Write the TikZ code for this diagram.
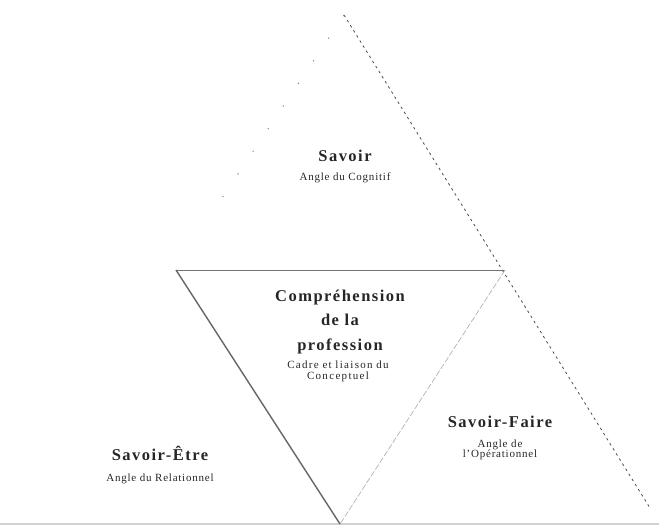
\documentclass[tikz,border=0pt]{standalone}
\usepackage{fontspec}
\setmainfont{Liberation Serif}
\begin{document}
\begin{tikzpicture}[x=1pt,y=-1pt,
  head/.style={font=\fontsize{16.5}{16.5}\selectfont\bfseries\addfontfeature{LetterSpace=9},
    text=black!85, inner sep=0pt, anchor=base},
  sub/.style={font=\fontsize{11}{10.5}\selectfont\addfontfeature{LetterSpace=7},
    text=black!85, inner sep=0pt, align=center, anchor=base},
  outerside/.style={draw=black!70, line width=0.8pt, dash pattern=on 2.5pt off 3.5pt},
  faintside/.style={draw=black!45, line width=1pt, dash pattern=on 1.2pt off 26pt},
  leftedge/.style={draw=black!60, line width=1.4pt},
  topedge/.style={draw=black!55, line width=0.9pt},
  rightedge/.style={draw=black!30, line width=0.7pt, dash pattern=on 6pt off 2pt},
  baseline/.style={draw=black!18, line width=1.2pt}]
\useasboundingbox (0,0) rectangle (659,529);
% corner points of the two triangles
\coordinate (apex) at (344,15);
\coordinate (tl) at (176,270);
\coordinate (tr) at (505,270);
\coordinate (bot) at (340,524);
\coordinate (rend) at (650,508);
\coordinate (ldots) at (222,198);
\coordinate (bl) at (0,524);
\coordinate (br) at (659,524);
% outer triangle
\draw[baseline] (bl) -- (br);
\draw[outerside] (apex) -- (rend);
\draw[faintside] (apex) -- (ldots);
% inner, inverted triangle
\draw[topedge] (tl) -- (tr);
\draw[leftedge] (tl) -- (bot);
\draw[rightedge] (tr) -- (bot);
% labels
\node[head] (sav) at (345,162) {Savoir};
\node[sub] (savs) at (345,181) {Angle du Cognitif};
\node[head] (comp1) at (340,302) {Compréhension};
\node[head] (comp2) at (340,326) {de la};
\node[head] (comp3) at (340,351) {profession};
\node[sub, text width=150pt, font=\fontsize{11}{10.5}\selectfont\addfontfeature{LetterSpace=12}] (comps) at (338,369) {Cadre et liaison du\\Conceptuel};
\node[head] (etre) at (160,460) {Savoir-Être};
\node[sub] (etres) at (160,481) {Angle du Relationnel};
\node[head] (faire) at (500,428) {Savoir-Faire};
\node[sub, text width=120pt] (faires) at (500,447) {Angle de\\l'Opérationnel};
\end{tikzpicture}
\end{document}
